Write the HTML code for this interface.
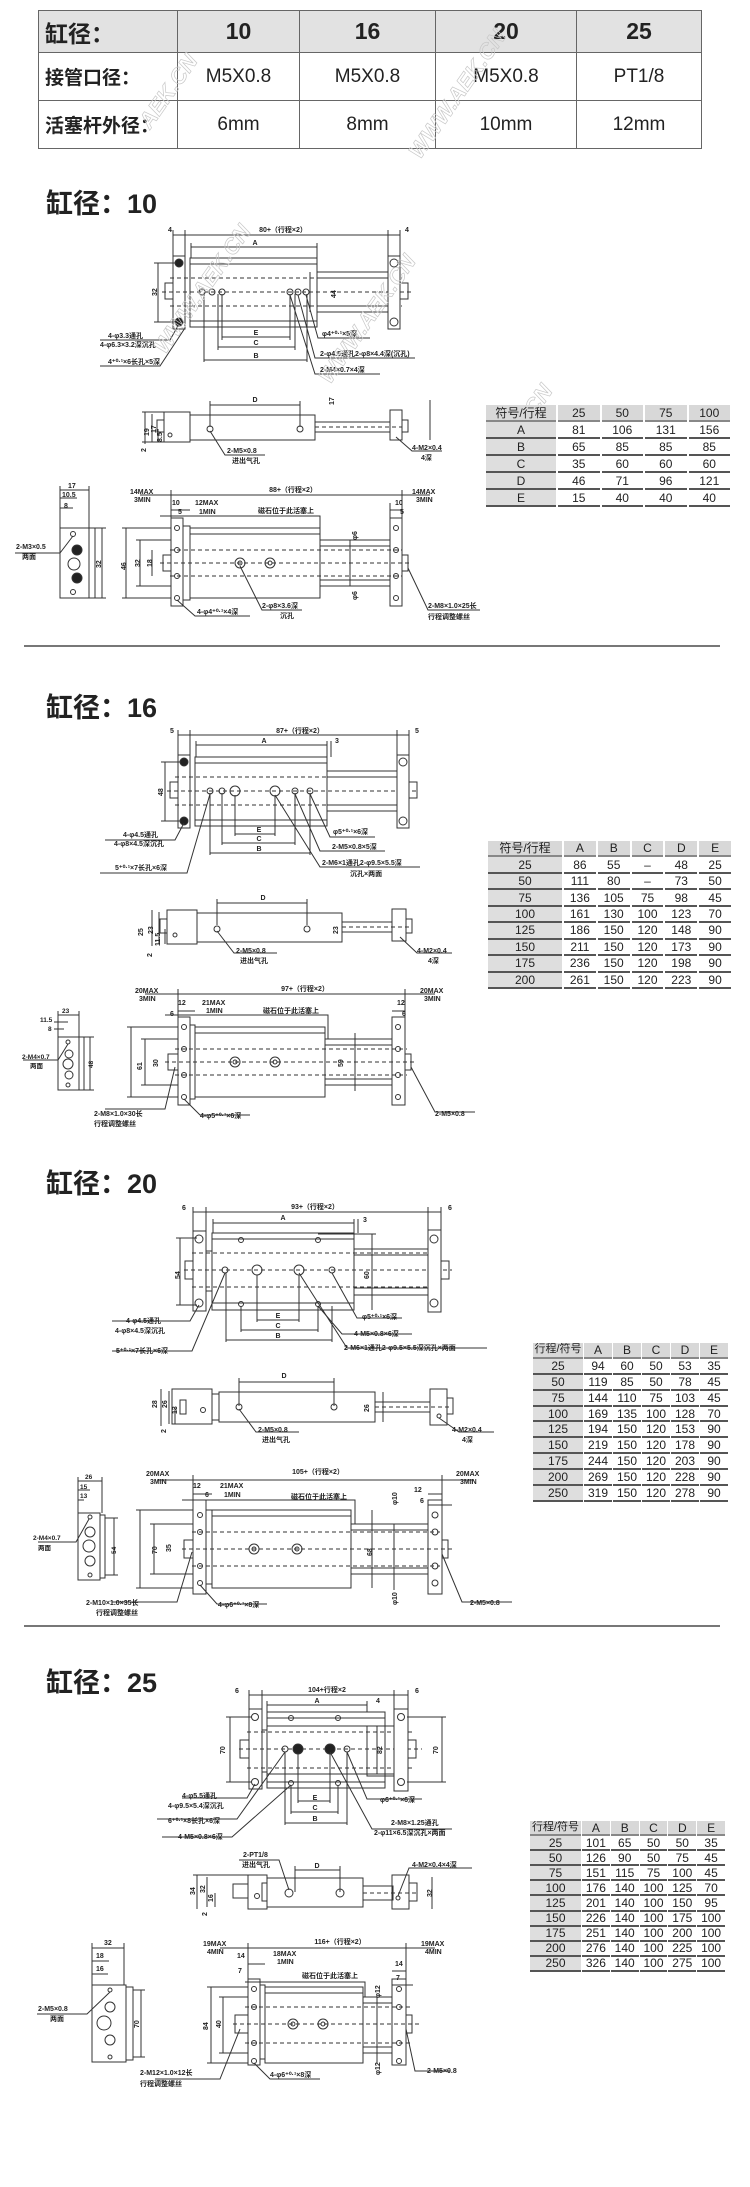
<!DOCTYPE html>
<html><head><meta charset="utf-8">
<style>
body{margin:0;background:#fff;}
#p{position:relative;width:750px;height:2187px;overflow:hidden;background:#fff;font-family:"Liberation Sans","Noto Sans CJK SC",sans-serif;}
table.top{position:absolute;left:38px;top:10px;width:664px;height:138px;border-collapse:collapse;border:1.5px solid #666;}
table.top td{border:1px solid #666;text-align:center;font-family:"Liberation Sans","Noto Sans CJK SC",sans-serif;color:#222;padding:0;white-space:nowrap;}
table.top tr.h td{background:#e2e2e2;font-weight:bold;font-size:23px;}
table.top td.f{text-align:left;padding-left:6px;font-weight:bold;font-size:21px;}
table.top tr.r td{font-size:19px;}
table.d{position:absolute;border-collapse:separate;border-spacing:2px 0;font-family:"Liberation Sans","Noto Sans CJK SC",sans-serif;color:#222;table-layout:fixed;}
table.d td{text-align:center;padding:0;border-bottom:2px solid #555;font-size:12px;line-height:1;white-space:nowrap;overflow:hidden;}
table.d tr:first-child td{background:#d8d8d8;border-bottom:2px solid #888;}
table.d td:first-child{background:#dedede;}
svg{position:absolute;left:0;top:0;}
svg text{font-family:"Liberation Sans","Noto Sans CJK SC",sans-serif;font-weight:bold;fill:#222;}
</style></head><body><div id="p">

<table class="top">
<tr class="h" style="height:42px"><td class="f" style="width:132px;font-size:23px">缸径：</td><td style="width:121px">10</td><td style="width:135px">16</td><td style="width:140px">20</td><td>25</td></tr>
<tr class="r" style="height:48px"><td class="f">接管口径：</td><td>M5X0.8</td><td>M5X0.8</td><td>M5X0.8</td><td>PT1/8</td></tr>
<tr class="r" style="height:48px"><td class="f">活塞杆外径：</td><td>6mm</td><td>8mm</td><td>10mm</td><td>12mm</td></tr>
</table>

<svg width="750" height="2187" viewBox="0 0 750 2187" xmlns="http://www.w3.org/2000/svg">
<g font-size="26" >
<text x="46" y="213" font-size="27">缸径：10</text>
<text x="46" y="717" font-size="27">缸径：16</text>
<text x="46" y="1193" font-size="27">缸径：20</text>
<text x="46" y="1692" font-size="27">缸径：25</text>
</g>
<line x1="24" y1="646" x2="720" y2="646" stroke="#777" stroke-width="2"/>
<line x1="24" y1="1626" x2="720" y2="1626" stroke="#777" stroke-width="2"/>

<!-- ========== SECTION 10 ========== -->
<g stroke="#333" fill="none" stroke-width="1" transform="translate(190,258)">
<rect x="-17" y="-2" width="12" height="73" fill="#fff"/>
<rect x="-25" y="25" width="8" height="16"/>
<rect x="0" y="0" width="127" height="69" fill="#fff"/>
<line x1="0" y1="6" x2="127" y2="6"/><line x1="0" y1="63" x2="127" y2="63"/>
<rect x="127" y="14" width="71" height="40"/>
<line x1="127" y1="20" x2="198" y2="20"/><line x1="127" y1="48" x2="198" y2="48"/>
<g stroke-dasharray="4,3"><line x1="-20" y1="20" x2="212" y2="20"/><line x1="-28" y1="34" x2="222" y2="34"/><line x1="-20" y1="48" x2="212" y2="48"/></g>
<rect x="198" y="-2" width="12" height="73" fill="#fff"/>
<rect x="210" y="25" width="8" height="16"/>
<circle cx="-11" cy="5" r="4" fill="#222"/><circle cx="-11" cy="64" r="4" fill="#222"/>
<circle cx="204" cy="5" r="4"/><circle cx="204" cy="64" r="4"/>
<circle cx="12" cy="34" r="3"/><circle cx="22" cy="34" r="3"/><circle cx="32" cy="34" r="3"/><circle cx="100" cy="34" r="3"/><circle cx="108" cy="34" r="3"/><circle cx="116" cy="34" r="3"/>
<line x1="-17" y1="-23" x2="210" y2="-23"/><line x1="-17" y1="-28" x2="-17" y2="0"/><line x1="-5" y1="-28" x2="-5" y2="0"/><line x1="198" y1="-28" x2="198" y2="0"/><line x1="210" y1="-28" x2="210" y2="0"/>
<line x1="1" y1="-11" x2="127" y2="-11"/><line x1="1" y1="-15" x2="1" y2="0"/><line x1="127" y1="-15" x2="127" y2="0"/>
<line x1="-32" y1="5" x2="-32" y2="64"/><line x1="-36" y1="5" x2="-15" y2="5"/><line x1="-36" y1="64" x2="-15" y2="64"/>
<line x1="120" y1="14" x2="120" y2="54"/>
<line x1="32" y1="79" x2="100" y2="79"/><line x1="28" y1="89" x2="105" y2="89"/><line x1="14" y1="102" x2="117" y2="102"/>
<line x1="14" y1="36" x2="14" y2="104"/><line x1="28" y1="36" x2="28" y2="92"/><line x1="32" y1="36" x2="32" y2="82"/><line x1="100" y1="36" x2="100" y2="82"/><line x1="105" y1="36" x2="105" y2="92"/><line x1="117" y1="36" x2="117" y2="104"/>
<polyline points="-11,66 -20,82 -90,82"/><polyline points="-5,70 -30,108 -90,108"/>
<polyline points="116,37 128,80 180,80"/><polyline points="108,37 125,100 225,100"/><polyline points="100,37 125,116 190,116"/>
</g>
<g font-size="7">
<text x="283" y="232" text-anchor="middle">80+（行程×2）</text>
<text x="168" y="232">4</text><text x="405" y="232">4</text>
<text x="255" y="245" text-anchor="middle">A</text>
<text x="157" y="296" transform="rotate(-90 157 296)">32</text>
<text x="336" y="298" transform="rotate(-90 336 298)">44</text>
<text x="256" y="335" text-anchor="middle">E</text><text x="256" y="345" text-anchor="middle">C</text><text x="256" y="358" text-anchor="middle">B</text>
<text x="108" y="338">4-φ3.3通孔</text><text x="100" y="347">4-φ6.3×3.2深沉孔</text>
<text x="108" y="364">4⁺⁰·¹×6长孔×5深</text>
<text x="322" y="336">φ4⁺⁰·¹×5深</text>
<text x="320" y="356">2-φ4.5通孔2-φ8×4.4深(沉孔)</text>
<text x="320" y="372">2-M4×0.7×4深</text>
</g>
<g stroke="#333" fill="none" transform="translate(190,415)">
<line x1="20" y1="-10" x2="110" y2="-10"/><line x1="20" y1="-14" x2="20" y2="12"/><line x1="110" y1="-14" x2="110" y2="12"/>
<rect x="0" y="0" width="125" height="25"/><rect x="-26" y="-3" width="26" height="30"/><rect x="-33" y="5" width="7" height="12"/>
<rect x="125" y="7" width="75" height="10"/><line x1="125" y1="12" x2="212" y2="12" stroke-dasharray="4,3"/>
<rect x="200" y="-5" width="12" height="30"/><rect x="212" y="5" width="6" height="12"/>
<circle cx="20" cy="14" r="3"/><circle cx="110" cy="14" r="3"/><circle cx="-20" cy="20" r="2"/>
<line x1="-45" y1="-3" x2="-45" y2="29"/><line x1="-38" y1="-1" x2="-38" y2="27"/><line x1="-32" y1="14" x2="-32" y2="27"/>
<line x1="-48" y1="-3" x2="-26" y2="-3"/><line x1="-48" y1="27" x2="-26" y2="27"/>
<polyline points="20,16 35,40 75,40"/><polyline points="206,22 222,36 252,36"/>
<line x1="240" y1="-15" x2="240" y2="25"/>
</g>
<g font-size="7">
<text x="255" y="402" text-anchor="middle">D</text>
<text x="149" y="436" transform="rotate(-90 149 436)">19</text>
<text x="156" y="433" transform="rotate(-90 156 433)">17</text>
<text x="162" y="442" transform="rotate(-90 162 442)">8.5</text>
<text x="146" y="452" transform="rotate(-90 146 452)">2</text>
<text x="227" y="453">2-M5×0.8</text><text x="232" y="463">进出气孔</text>
<text x="412" y="450">4-M2×0.4</text><text x="421" y="460">4深</text>
<text x="334" y="405" transform="rotate(-90 334 405)">17</text>
</g>
<g stroke="#333" fill="none" transform="translate(60,528)">
<rect x="0" y="0" width="29" height="70"/><rect x="29" y="0" width="6" height="70"/>
<circle cx="13" cy="6" r="2.5"/><circle cx="17" cy="22" r="5" fill="#222"/><circle cx="14" cy="36" r="6"/><circle cx="17" cy="50" r="5" fill="#222"/><circle cx="13" cy="64" r="2.5"/>
<line x1="0" y1="-38" x2="29" y2="-38"/><line x1="0" y1="-30" x2="17" y2="-30"/><line x1="0" y1="-20" x2="13" y2="-20"/>
<line x1="0" y1="-42" x2="0" y2="0"/><line x1="29" y1="-42" x2="29" y2="0"/>
<line x1="42" y1="0" x2="42" y2="70"/><line x1="35" y1="0" x2="46" y2="0"/><line x1="35" y1="70" x2="46" y2="70"/>
<polyline points="13,8 0,25 -45,25"/>
</g>
<g font-size="7">
<text x="68" y="488">17</text><text x="62" y="497">10.5</text><text x="64" y="508">8</text>
<text x="16" y="549">2-M3×0.5</text><text x="22" y="559">两面</text>
<text x="101" y="568" transform="rotate(-90 101 568)">32</text>
</g>
<g stroke="#333" fill="none" transform="translate(190,528)">
<rect x="-19" y="-10" width="12" height="88"/><rect x="-7" y="-2" width="7" height="74"/>
<rect x="0" y="0" width="130" height="70"/><line x1="0" y1="6" x2="130" y2="6"/>
<rect x="130" y="12" width="70" height="46"/><line x1="130" y1="18" x2="200" y2="18"/><line x1="130" y1="52" x2="200" y2="52"/>
<rect x="200" y="-10" width="12" height="88"/><rect x="212" y="27" width="6" height="16"/><rect x="-27" y="27" width="8" height="16"/>
<g stroke-dasharray="4,3"><line x1="-20" y1="22" x2="212" y2="22"/><line x1="-30" y1="35" x2="222" y2="35"/><line x1="-20" y1="48" x2="212" y2="48"/></g>
<circle cx="50" cy="35" r="5"/><circle cx="50" cy="35" r="2"/><circle cx="80" cy="35" r="5"/><circle cx="80" cy="35" r="2"/>
<circle cx="-13" cy="0" r="2.5"/><circle cx="-13" cy="22" r="2.5"/><circle cx="-13" cy="48" r="2.5"/><circle cx="-13" cy="70" r="2.5"/>
<circle cx="206" cy="0" r="2.5"/><circle cx="206" cy="22" r="2.5"/><circle cx="206" cy="48" r="2.5"/><circle cx="206" cy="70" r="2.5"/>
<line x1="-19" y1="-33" x2="212" y2="-33"/><line x1="-19" y1="-38" x2="-19" y2="-10"/><line x1="212" y1="-38" x2="212" y2="-10"/>
<line x1="-50" y1="-33" x2="-19" y2="-33"/><line x1="212" y1="-33" x2="240" y2="-33"/>
<line x1="-19" y1="-18" x2="0" y2="-18"/><line x1="200" y1="-18" x2="212" y2="-18"/><line x1="200" y1="-25" x2="200" y2="-10"/>
<polyline points="-30,-12 130,-12 130,12"/>
<line x1="-64" y1="0" x2="-64" y2="70"/><line x1="-68" y1="0" x2="-19" y2="0"/><line x1="-68" y1="70" x2="-19" y2="70"/>
<line x1="-50" y1="12" x2="-50" y2="58"/><line x1="-54" y1="12" x2="-19" y2="12"/><line x1="-54" y1="58" x2="-19" y2="58"/>
<line x1="-38" y1="22" x2="-38" y2="48"/>
<line x1="160" y1="12" x2="160" y2="58"/>
<polyline points="-13,72 5,88 60,88"/><polyline points="50,38 72,82 112,82"/><polyline points="218,40 238,82 290,82"/>
</g>
<g font-size="7">
<text x="130" y="494">14MAX</text><text x="134" y="502">3MIN</text>
<text x="412" y="494">14MAX</text><text x="416" y="502">3MIN</text>
<text x="293" y="492" text-anchor="middle">88+（行程×2）</text>
<text x="172" y="505">10</text><text x="178" y="514">5</text><text x="195" y="505">12MAX</text><text x="199" y="514">1MIN</text>
<text x="395" y="505">10</text><text x="400" y="514">5</text>
<text x="258" y="513">磁石位于此活塞上</text>
<text x="126" y="570" transform="rotate(-90 126 570)">46</text>
<text x="140" y="567" transform="rotate(-90 140 567)">32</text>
<text x="152" y="567" transform="rotate(-90 152 567)">18</text>
<text x="197" y="614">4-φ4⁺⁰·¹×4深</text>
<text x="262" y="608">2-φ8×3.6深</text><text x="280" y="618">沉孔</text>
<text x="428" y="608">2-M8×1.0×25长</text><text x="428" y="619">行程调整螺丝</text>
<text x="357" y="540" transform="rotate(-90 357 540)">φ6</text>
<text x="357" y="600" transform="rotate(-90 357 600)">φ6</text>
</g>

<!-- ========== SECTION 16 ========== -->
<g stroke="#333" fill="none" transform="translate(195,757)">
<rect x="-17" y="-2" width="12" height="73" fill="#fff"/>
<rect x="-25" y="25" width="8" height="16"/>
<rect x="0" y="0" width="132" height="69" fill="#fff"/>
<line x1="0" y1="6" x2="132" y2="6"/><line x1="0" y1="63" x2="132" y2="63"/>
<rect x="132" y="14" width="70" height="40"/>
<line x1="132" y1="20" x2="202" y2="20"/><line x1="132" y1="48" x2="202" y2="48"/>
<g stroke-dasharray="4,3"><line x1="-20" y1="20" x2="214" y2="20"/><line x1="-28" y1="34" x2="224" y2="34"/><line x1="-20" y1="48" x2="214" y2="48"/></g>
<rect x="202" y="-2" width="12" height="73" fill="#fff"/>
<rect x="214" y="25" width="8" height="16"/>
<circle cx="-11" cy="5" r="4" fill="#222"/><circle cx="-11" cy="64" r="4" fill="#222"/>
<circle cx="208" cy="5" r="4"/><circle cx="208" cy="64" r="4"/>
<circle cx="15" cy="34" r="3"/><circle cx="27" cy="34" r="3"/><circle cx="40" cy="34" r="5"/><circle cx="80" cy="34" r="5"/><circle cx="100" cy="34" r="3"/><circle cx="115" cy="34" r="3"/>
<line x1="-17" y1="-22" x2="214" y2="-22"/><line x1="-17" y1="-27" x2="-17" y2="0"/><line x1="-5" y1="-27" x2="-5" y2="0"/><line x1="202" y1="-27" x2="202" y2="0"/><line x1="214" y1="-27" x2="214" y2="0"/>
<line x1="1" y1="-12" x2="132" y2="-12"/><line x1="1" y1="-16" x2="1" y2="0"/><line x1="132" y1="-16" x2="132" y2="0"/><line x1="136" y1="-16" x2="136" y2="0"/>
<line x1="-30" y1="5" x2="-30" y2="64"/><line x1="-34" y1="5" x2="-15" y2="5"/><line x1="-34" y1="64" x2="-15" y2="64"/>
<line x1="40" y1="77" x2="80" y2="77"/><line x1="27" y1="86" x2="100" y2="86"/><line x1="15" y1="96" x2="115" y2="96"/>
<line x1="15" y1="36" x2="15" y2="98"/><line x1="27" y1="36" x2="27" y2="88"/><line x1="40" y1="38" x2="40" y2="79"/><line x1="80" y1="38" x2="80" y2="79"/><line x1="100" y1="36" x2="100" y2="88"/><line x1="115" y1="36" x2="115" y2="98"/>
<polyline points="-11,66 -20,83 -90,83"/><polyline points="15,37 -8,116 -95,116"/>
<polyline points="115,37 135,80 180,80"/><polyline points="100,37 125,94 190,94"/><polyline points="80,38 125,110 225,110"/>
</g>
<g font-size="7">
<text x="300" y="733" text-anchor="middle">87+（行程×2）</text>
<text x="170" y="733">5</text><text x="415" y="733">5</text>
<text x="264" y="743" text-anchor="middle">A</text><text x="335" y="743">3</text>
<text x="163" y="796" transform="rotate(-90 163 796)">48</text>
<text x="259" y="832" text-anchor="middle">E</text><text x="259" y="841" text-anchor="middle">C</text><text x="259" y="851" text-anchor="middle">B</text>
<text x="123" y="837">4-φ4.5通孔</text><text x="114" y="846">4-φ8×4.5深沉孔</text>
<text x="115" y="870">5⁺⁰·¹×7长孔×6深</text>
<text x="333" y="834">φ5⁺⁰·¹×6深</text>
<text x="332" y="849">2-M5×0.8×5深</text>
<text x="322" y="865">2-M6×1通孔2-φ9.5×5.5深</text>
<text x="350" y="876">沉孔×两面</text>
</g>
<g stroke="#333" fill="none" transform="translate(197,913)">
<line x1="20" y1="-10" x2="110" y2="-10"/><line x1="20" y1="-14" x2="20" y2="12"/><line x1="110" y1="-14" x2="110" y2="12"/>
<rect x="0" y="0" width="145" height="29"/><rect x="-30" y="-3" width="30" height="34"/><rect x="-37" y="6" width="7" height="14"/>
<rect x="145" y="9" width="50" height="10"/><line x1="145" y1="14" x2="214" y2="14" stroke-dasharray="4,3"/>
<rect x="195" y="-4" width="14" height="32"/><rect x="209" y="6" width="6" height="14"/>
<circle cx="20" cy="16" r="3"/><circle cx="110" cy="16" r="3"/><circle cx="-22" cy="22" r="2"/>
<line x1="-45" y1="-3" x2="-45" y2="33"/><line x1="-38" y1="-1" x2="-38" y2="31"/><line x1="-32" y1="16" x2="-32" y2="31"/>
<polyline points="20,18 37,40 80,40"/><polyline points="203,24 220,40 255,40"/>
</g>
<g font-size="7">
<text x="263" y="900" text-anchor="middle">D</text>
<text x="143" y="936" transform="rotate(-90 143 936)">25</text>
<text x="153" y="934" transform="rotate(-90 153 934)">23</text>
<text x="160" y="946" transform="rotate(-90 160 946)">11.5</text>
<text x="152" y="957" transform="rotate(-90 152 957)">2</text>
<text x="338" y="934" transform="rotate(-90 338 934)">23</text>
<text x="236" y="953">2-M5×0.8</text><text x="240" y="963">进出气孔</text>
<text x="417" y="953">4-M2×0.4</text><text x="428" y="963">4深</text>
</g>
<g stroke="#333" fill="none" transform="translate(58,1037)">
<rect x="0" y="0" width="21" height="53"/><rect x="21" y="0" width="5" height="53"/>
<circle cx="10" cy="5" r="2"/><circle cx="11" cy="17" r="4"/><circle cx="10" cy="27" r="5"/><circle cx="11" cy="38" r="4"/><circle cx="10" cy="48" r="2"/>
<line x1="0" y1="-22" x2="21" y2="-22"/><line x1="-4" y1="-15" x2="10" y2="-15"/><line x1="-4" y1="-8" x2="6" y2="-8"/>
<line x1="0" y1="-26" x2="0" y2="0"/><line x1="21" y1="-26" x2="21" y2="0"/>
<line x1="32" y1="0" x2="32" y2="53"/><line x1="26" y1="0" x2="36" y2="0"/><line x1="26" y1="53" x2="36" y2="53"/>
<polyline points="10,7 0,23 -35,23"/>
</g>
<g font-size="6.5">
<text x="62" y="1013">23</text><text x="40" y="1022">11.5</text><text x="48" y="1031">8</text>
<text x="22" y="1059">2-M4×0.7</text><text x="30" y="1068">两面</text>
<text x="93" y="1068" transform="rotate(-90 93 1068)">48</text>
</g>
<g stroke="#333" fill="none" transform="translate(195,1027)">
<rect x="-17" y="-10" width="12" height="88"/><rect x="-5" y="-2" width="5" height="74"/>
<rect x="0" y="0" width="130" height="70"/><line x1="0" y1="6" x2="130" y2="6"/>
<rect x="130" y="12" width="67" height="46"/><line x1="130" y1="18" x2="197" y2="18"/><line x1="130" y1="52" x2="197" y2="52"/>
<rect x="197" y="-10" width="13" height="88"/><rect x="210" y="27" width="6" height="16"/><rect x="-27" y="27" width="10" height="16"/>
<g stroke-dasharray="4,3"><line x1="-20" y1="22" x2="212" y2="22"/><line x1="-30" y1="35" x2="222" y2="35"/><line x1="-20" y1="48" x2="212" y2="48"/></g>
<circle cx="40" cy="35" r="5"/><circle cx="40" cy="35" r="2"/><circle cx="80" cy="35" r="5"/><circle cx="80" cy="35" r="2"/>
<circle cx="-11" cy="0" r="2.5"/><circle cx="-11" cy="22" r="2.5"/><circle cx="-11" cy="48" r="2.5"/><circle cx="-11" cy="70" r="2.5"/>
<circle cx="203" cy="0" r="2.5"/><circle cx="203" cy="22" r="2.5"/><circle cx="203" cy="48" r="2.5"/><circle cx="203" cy="70" r="2.5"/>
<line x1="-17" y1="-33" x2="210" y2="-33"/><line x1="-17" y1="-38" x2="-17" y2="-10"/><line x1="210" y1="-38" x2="210" y2="-10"/>
<line x1="-50" y1="-33" x2="-17" y2="-33"/><line x1="210" y1="-33" x2="240" y2="-33"/>
<line x1="-17" y1="-16" x2="0" y2="-16"/><line x1="197" y1="-16" x2="210" y2="-16"/>
<polyline points="-30,-12 133,-12 133,12"/>
<line x1="-64" y1="0" x2="-64" y2="70"/><line x1="-68" y1="0" x2="-17" y2="0"/><line x1="-68" y1="70" x2="-17" y2="70"/>
<line x1="-50" y1="12" x2="-50" y2="58"/><line x1="-54" y1="12" x2="-17" y2="12"/><line x1="-54" y1="58" x2="-17" y2="58"/>
<line x1="160" y1="6" x2="160" y2="64"/>
<polyline points="-11,72 5,88 55,88"/><polyline points="-20,40 -30,82 -90,82"/><polyline points="216,40 240,85 280,85"/>
</g>
<g font-size="7">
<text x="135" y="993">20MAX</text><text x="139" y="1001">3MIN</text>
<text x="420" y="993">20MAX</text><text x="424" y="1001">3MIN</text>
<text x="305" y="991" text-anchor="middle">97+（行程×2）</text>
<text x="178" y="1005">12</text><text x="170" y="1016">6</text><text x="202" y="1005">21MAX</text><text x="206" y="1013">1MIN</text>
<text x="397" y="1005">12</text><text x="402" y="1016">6</text>
<text x="263" y="1013">磁石位于此活塞上</text>
<text x="142" y="1070" transform="rotate(-90 142 1070)">61</text>
<text x="158" y="1067" transform="rotate(-90 158 1067)">30</text>
<text x="343" y="1067" transform="rotate(-90 343 1067)">59</text>
<text x="94" y="1116">2-M8×1.0×30长</text><text x="94" y="1126">行程调整螺丝</text>
<text x="200" y="1118">4-φ5⁺⁰·¹×6深</text>
<text x="435" y="1116">2-M5×0.8</text>
</g>

<!-- ========== SECTION 20 ========== -->
<g stroke="#333" fill="none" transform="translate(212,1233)">
<rect x="-19" y="-2" width="13" height="80" fill="#fff"/>
<rect x="-6" y="18" width="6" height="40"/>
<rect x="-27" y="28" width="8" height="18"/>
<rect x="0" y="0" width="142" height="77" fill="#fff"/>
<line x1="0" y1="6" x2="142" y2="6"/><line x1="0" y1="70" x2="142" y2="70"/>
<rect x="142" y="16" width="74" height="46"/>
<line x1="142" y1="22" x2="216" y2="22"/><line x1="142" y1="55" x2="216" y2="55"/>
<g stroke-dasharray="4,3"><line x1="-20" y1="20" x2="228" y2="20"/><line x1="-28" y1="37" x2="240" y2="37"/><line x1="-20" y1="54" x2="228" y2="54"/></g>
<rect x="216" y="-3" width="13" height="82" fill="#fff"/>
<rect x="229" y="28" width="8" height="18"/>
<circle cx="-13" cy="6" r="4"/><circle cx="-13" cy="70" r="4"/>
<circle cx="222" cy="6" r="4"/><circle cx="222" cy="70" r="4"/>
<circle cx="29" cy="7" r="2.5"/><circle cx="106" cy="7" r="2.5"/><circle cx="29" cy="71" r="2.5"/><circle cx="106" cy="71" r="2.5"/>
<circle cx="13" cy="37" r="3"/><circle cx="45" cy="37" r="5"/><circle cx="87" cy="37" r="5"/><circle cx="120" cy="37" r="3"/>
<line x1="-19" y1="-21" x2="229" y2="-21"/><line x1="-19" y1="-26" x2="-19" y2="0"/><line x1="-6" y1="-26" x2="-6" y2="0"/><line x1="216" y1="-26" x2="216" y2="0"/><line x1="229" y1="-26" x2="229" y2="0"/>
<line x1="1" y1="-10" x2="142" y2="-10"/><line x1="1" y1="-14" x2="1" y2="0"/><line x1="142" y1="-14" x2="142" y2="0"/><line x1="146" y1="-14" x2="146" y2="0"/>
<line x1="-32" y1="5" x2="-32" y2="72"/><line x1="-36" y1="5" x2="-15" y2="5"/><line x1="-36" y1="72" x2="-15" y2="72"/>
<line x1="160" y1="1" x2="160" y2="77"/><line x1="106" y1="1" x2="164" y2="1"/>
<line x1="45" y1="87" x2="87" y2="87"/><line x1="29" y1="97" x2="106" y2="97"/><line x1="14" y1="107" x2="120" y2="107"/>
<line x1="14" y1="40" x2="14" y2="109"/><line x1="29" y1="73" x2="29" y2="99"/><line x1="45" y1="42" x2="45" y2="89"/><line x1="87" y1="42" x2="87" y2="89"/><line x1="106" y1="73" x2="106" y2="99"/><line x1="120" y1="73" x2="120" y2="109"/>
<polyline points="-13,72 -22,88 -100,88"/><polyline points="13,40 -20,118 -100,118"/>
<polyline points="120,40 145,85 190,85"/><polyline points="106,73 130,101 200,101"/><polyline points="87,40 135,115 275,115"/>
</g>
<g font-size="7">
<text x="315" y="1209" text-anchor="middle">93+（行程×2）</text>
<text x="182" y="1210">6</text><text x="448" y="1210">6</text>
<text x="283" y="1220" text-anchor="middle">A</text><text x="363" y="1222">3</text>
<text x="180" y="1279" transform="rotate(-90 180 1279)">54</text>
<text x="369" y="1279" transform="rotate(-90 369 1279)">60</text>
<text x="278" y="1318" text-anchor="middle">E</text><text x="278" y="1328" text-anchor="middle">C</text><text x="278" y="1338" text-anchor="middle">B</text>
<text x="126" y="1323">4-φ4.5通孔</text><text x="115" y="1333">4-φ8×4.5深沉孔</text>
<text x="116" y="1353">5⁺⁰·¹×7长孔×6深</text>
<text x="362" y="1319">φ5⁺⁰·¹×6深</text>
<text x="354" y="1336">4-M5×0.8×6深</text>
<text x="344" y="1350">2-M6×1通孔2-φ9.5×5.5深沉孔×两面</text>
</g>
<g stroke="#333" fill="none" transform="translate(219,1392)">
<line x1="20" y1="-10" x2="115" y2="-10"/><line x1="20" y1="-14" x2="20" y2="14"/><line x1="115" y1="-14" x2="115" y2="14"/>
<rect x="0" y="0" width="156" height="30"/><rect x="-7" y="2" width="7" height="26"/><rect x="-47" y="-3" width="40" height="35"/><rect x="-39" y="8" width="6" height="14"/>
<rect x="156" y="10" width="55" height="10"/><line x1="156" y1="15" x2="230" y2="15" stroke-dasharray="4,3"/>
<rect x="211" y="-3" width="17" height="36"/><rect x="228" y="6" width="6" height="16"/>
<circle cx="20" cy="15" r="3"/><circle cx="115" cy="15" r="3"/><circle cx="-16" cy="18" r="2.5"/><circle cx="220" cy="24" r="2"/>
<line x1="-58" y1="-3" x2="-58" y2="34"/><line x1="-50" y1="-1" x2="-50" y2="32"/><line x1="-44" y1="16" x2="-44" y2="32"/>
<line x1="164" y1="0" x2="164" y2="30"/>
<polyline points="20,17 37,40 80,40"/><polyline points="220,26 240,40 275,40"/>
</g>
<g font-size="7">
<text x="284" y="1378" text-anchor="middle">D</text>
<text x="157" y="1408" transform="rotate(-90 157 1408)">28</text>
<text x="167" y="1408" transform="rotate(-90 167 1408)">26</text>
<text x="177" y="1414" transform="rotate(-90 177 1414)">13</text>
<text x="166" y="1433" transform="rotate(-90 166 1433)">2</text>
<text x="369" y="1412" transform="rotate(-90 369 1412)">26</text>
<text x="258" y="1432">2-M5×0.8</text><text x="262" y="1442">进出气孔</text>
<text x="452" y="1432">4-M2×0.4</text><text x="462" y="1442">4深</text>
</g>
<g stroke="#333" fill="none" transform="translate(78,1513)">
<rect x="0" y="0" width="22" height="67"/><rect x="22" y="2" width="5" height="63"/>
<circle cx="12" cy="4" r="2"/><circle cx="12" cy="19" r="5"/><circle cx="11" cy="33" r="6"/><circle cx="12" cy="48" r="5"/><circle cx="12" cy="62" r="2"/>
<line x1="0" y1="-32" x2="24" y2="-32"/><line x1="0" y1="-23" x2="12" y2="-23"/><line x1="0" y1="-13" x2="6" y2="-13"/>
<line x1="0" y1="-36" x2="0" y2="0"/><line x1="24" y1="-36" x2="24" y2="0"/>
<line x1="36" y1="5" x2="36" y2="62"/><line x1="27" y1="5" x2="40" y2="5"/><line x1="27" y1="62" x2="40" y2="62"/>
<polyline points="11,6 -2,29 -40,29"/>
</g>
<g font-size="6.5">
<text x="85" y="1479">26</text><text x="80" y="1489">15</text><text x="80" y="1498">13</text>
<text x="33" y="1540">2-M4×0.7</text><text x="38" y="1550">两面</text>
<text x="116" y="1554" transform="rotate(-90 116 1554)">54</text>
</g>
<g stroke="#333" fill="none" transform="translate(212,1510)">
<rect x="-19" y="-10" width="13" height="94"/><rect x="-6" y="0" width="6" height="74"/>
<rect x="0" y="0" width="139" height="78"/><line x1="0" y1="6" x2="139" y2="6"/>
<rect x="139" y="14" width="77" height="50"/><line x1="139" y1="20" x2="216" y2="20"/><line x1="139" y1="58" x2="216" y2="58"/>
<rect x="216" y="-10" width="14" height="94"/><rect x="230" y="30" width="6" height="18"/><rect x="-28" y="30" width="9" height="18"/>
<g stroke-dasharray="4,3"><line x1="-20" y1="22" x2="228" y2="22"/><line x1="-30" y1="39" x2="240" y2="39"/><line x1="-20" y1="56" x2="228" y2="56"/></g>
<circle cx="42" cy="39" r="5"/><circle cx="42" cy="39" r="2"/><circle cx="85" cy="39" r="5"/><circle cx="85" cy="39" r="2"/>
<circle cx="-12" cy="5" r="2.5"/><circle cx="-12" cy="22" r="2.5"/><circle cx="-12" cy="56" r="2.5"/><circle cx="-12" cy="73" r="2.5"/>
<circle cx="223" cy="5" r="3"/><circle cx="223" cy="22" r="3"/><circle cx="223" cy="56" r="3"/><circle cx="223" cy="73" r="3"/>
<line x1="-19" y1="-30" x2="230" y2="-30"/><line x1="-19" y1="-35" x2="-19" y2="-10"/><line x1="230" y1="-35" x2="230" y2="-10"/>
<line x1="-55" y1="-30" x2="-19" y2="-30"/><line x1="230" y1="-30" x2="262" y2="-30"/>
<line x1="-19" y1="-16" x2="0" y2="-16"/><line x1="216" y1="-16" x2="230" y2="-16"/><line x1="216" y1="-5" x2="240" y2="-5"/>
<polyline points="-30,-10 143,-10 143,14"/>
<line x1="-72" y1="0" x2="-72" y2="78"/><line x1="-76" y1="0" x2="-19" y2="0"/><line x1="-76" y1="78" x2="-19" y2="78"/>
<line x1="-58" y1="14" x2="-58" y2="64"/><line x1="-62" y1="14" x2="-19" y2="14"/><line x1="-62" y1="64" x2="-19" y2="64"/>
<line x1="160" y1="0" x2="160" y2="78"/><line x1="182" y1="14" x2="182" y2="80"/>
<polyline points="-12,75 5,94 55,94"/><polyline points="-20,42 -35,92 -100,92"/><polyline points="230,44 250,92 300,92"/>
</g>
<g font-size="7">
<text x="146" y="1476">20MAX</text><text x="150" y="1484">3MIN</text>
<text x="456" y="1476">20MAX</text><text x="460" y="1484">3MIN</text>
<text x="318" y="1474" text-anchor="middle">105+（行程×2）</text>
<text x="193" y="1488">12</text><text x="205" y="1497">6</text><text x="220" y="1488">21MAX</text><text x="224" y="1497">1MIN</text>
<text x="414" y="1492">12</text><text x="420" y="1503">6</text>
<text x="291" y="1499">磁石位于此活塞上</text>
<text x="157" y="1554" transform="rotate(-90 157 1554)">70</text>
<text x="171" y="1552" transform="rotate(-90 171 1552)">35</text>
<text x="372" y="1556" transform="rotate(-90 372 1556)">68</text>
<text x="397" y="1505" transform="rotate(-90 397 1505)">φ10</text>
<text x="397" y="1605" transform="rotate(-90 397 1605)">φ10</text>
<text x="86" y="1605">2-M10×1.0×35长</text><text x="96" y="1615">行程调整螺丝</text>
<text x="218" y="1607">4-φ6⁺⁰·¹×8深</text>
<text x="470" y="1605">2-M5×0.8</text>
</g>

<!-- ========== SECTION 25 ========== -->
<g stroke="#333" fill="none" transform="translate(267,1712)">
<rect x="-18" y="-3" width="13" height="80" fill="#fff"/>
<rect x="-5" y="18" width="5" height="42"/>
<rect x="-27" y="28" width="9" height="18"/>
<rect x="0" y="0" width="118" height="76" fill="#fff"/>
<line x1="0" y1="6" x2="118" y2="6"/><line x1="0" y1="70" x2="118" y2="70"/>
<rect x="100" y="14" width="27" height="50"/>
<line x1="0" y1="14" x2="127" y2="14"/><line x1="0" y1="62" x2="127" y2="62"/>
<g stroke-dasharray="4,3"><line x1="-20" y1="20" x2="145" y2="20"/><line x1="-28" y1="37" x2="155" y2="37"/><line x1="-20" y1="56" x2="145" y2="56"/></g>
<rect x="127" y="-3" width="14" height="82" fill="#fff"/>
<rect x="141" y="28" width="8" height="18"/>
<circle cx="-12" cy="5" r="3.5"/><circle cx="-12" cy="70" r="3.5"/>
<circle cx="134" cy="5" r="3.5"/><circle cx="134" cy="70" r="3.5"/>
<circle cx="24" cy="6" r="2.5"/><circle cx="71" cy="6" r="2.5"/><circle cx="24" cy="71" r="2.5"/><circle cx="71" cy="71" r="2.5"/>
<circle cx="18" cy="37" r="3"/><circle cx="31" cy="37" r="5" fill="#222"/><circle cx="63" cy="37" r="5" fill="#222"/><circle cx="80" cy="37" r="3"/>
<line x1="-18" y1="-17" x2="141" y2="-17"/><line x1="-18" y1="-22" x2="-18" y2="0"/><line x1="-5" y1="-22" x2="-5" y2="0"/><line x1="127" y1="-22" x2="127" y2="0"/><line x1="141" y1="-22" x2="141" y2="0"/>
<line x1="0" y1="-7" x2="100" y2="-7"/><line x1="0" y1="-11" x2="0" y2="0"/><line x1="100" y1="-11" x2="100" y2="0"/>
<line x1="-37" y1="5" x2="-37" y2="70"/><line x1="-41" y1="5" x2="-15" y2="5"/><line x1="-41" y1="70" x2="-15" y2="70"/>
<line x1="175" y1="5" x2="175" y2="70"/><line x1="140" y1="5" x2="179" y2="5"/><line x1="140" y1="70" x2="179" y2="70"/>
<line x1="110" y1="14" x2="110" y2="62"/>
<line x1="31" y1="89" x2="63" y2="89"/><line x1="24" y1="100" x2="71" y2="100"/><line x1="18" y1="111" x2="80" y2="111"/>
<line x1="18" y1="40" x2="18" y2="113"/><line x1="24" y1="73" x2="24" y2="102"/><line x1="31" y1="42" x2="31" y2="91"/><line x1="63" y1="42" x2="63" y2="91"/><line x1="71" y1="73" x2="71" y2="102"/><line x1="80" y1="40" x2="80" y2="113"/>
<polyline points="-12,72 -20,86 -85,86"/><polyline points="18,40 -30,107 -110,107"/><polyline points="24,73 -35,125 -105,125"/>
<polyline points="80,40 100,87 155,87"/><polyline points="63,40 105,117 185,117"/>
</g>
<g font-size="7">
<text x="327" y="1692" text-anchor="middle">104+行程×2</text>
<text x="235" y="1693">6</text><text x="415" y="1693">6</text>
<text x="317" y="1703" text-anchor="middle">A</text><text x="376" y="1703">4</text>
<text x="225" y="1754" transform="rotate(-90 225 1754)">70</text>
<text x="438" y="1754" transform="rotate(-90 438 1754)">70</text>
<text x="382" y="1754" transform="rotate(-90 382 1754)">82</text>
<text x="315" y="1800" text-anchor="middle">E</text><text x="315" y="1810" text-anchor="middle">C</text><text x="315" y="1821" text-anchor="middle">B</text>
<text x="182" y="1798">4-φ5.5通孔</text><text x="168" y="1808">4-φ9.5×5.4深沉孔</text>
<text x="168" y="1823">6⁺⁰·¹×8长孔×6深</text>
<text x="178" y="1839">4-M5×0.8×6深</text>
<text x="380" y="1802">φ6⁺⁰·¹×6深</text>
<text x="391" y="1825">2-M8×1.25通孔</text>
<text x="374" y="1835">2-φ11×6.5深沉孔×两面</text>
</g>
<g stroke="#333" fill="none" transform="translate(267,1878)">
<line x1="28" y1="-8" x2="73" y2="-8"/><line x1="28" y1="-12" x2="28" y2="14"/><line x1="73" y1="-12" x2="73" y2="14"/>
<rect x="0" y="0" width="96" height="29"/><rect x="-5" y="5" width="5" height="18"/><rect x="-19" y="-3" width="19" height="34"/><rect x="-34" y="6" width="15" height="14"/>
<rect x="96" y="8" width="30" height="14"/><line x1="96" y1="15" x2="150" y2="15" stroke-dasharray="4,3"/>
<rect x="125" y="-3" width="17" height="34"/><rect x="142" y="5" width="8" height="18"/>
<circle cx="22" cy="15" r="4"/><circle cx="73" cy="15" r="4"/><circle cx="-10" cy="18" r="2.5"/><circle cx="131" cy="20" r="2"/>
<line x1="-70" y1="-3" x2="-70" y2="31"/><line x1="-60" y1="-1" x2="-60" y2="29"/><line x1="-52" y1="15" x2="-52" y2="29"/><line x1="-74" y1="-3" x2="-19" y2="-3"/>
<line x1="165" y1="-1" x2="165" y2="31"/>
<polyline points="22,12 12,-18 -28,-18"/><polyline points="131,18 142,-10 205,-10"/>
</g>
<g font-size="7">
<text x="317" y="1868" text-anchor="middle">D</text>
<text x="243" y="1857">2-PT1/8</text><text x="242" y="1867">进出气孔</text>
<text x="412" y="1867">4-M2×0.4×4深</text>
<text x="195" y="1895" transform="rotate(-90 195 1895)">34</text>
<text x="205" y="1893" transform="rotate(-90 205 1893)">32</text>
<text x="213" y="1902" transform="rotate(-90 213 1902)">16</text>
<text x="207" y="1916" transform="rotate(-90 207 1916)">2</text>
<text x="432" y="1897" transform="rotate(-90 432 1897)">32</text>
</g>
<g stroke="#333" fill="none" transform="translate(92,1985)">
<rect x="0" y="0" width="34" height="77"/><rect x="34" y="2" width="7" height="73"/>
<circle cx="18" cy="5" r="2"/><circle cx="18" cy="22" r="5"/><circle cx="12" cy="38" r="7"/><circle cx="18" cy="55" r="5"/><circle cx="18" cy="72" r="2"/>
<line x1="0" y1="-37" x2="32" y2="-37"/><line x1="0" y1="-24" x2="17" y2="-24"/><line x1="0" y1="-11" x2="16" y2="-11"/>
<line x1="0" y1="-42" x2="0" y2="0"/><line x1="32" y1="-42" x2="32" y2="0"/>
<line x1="49" y1="5" x2="49" y2="72"/><line x1="41" y1="5" x2="53" y2="5"/><line x1="41" y1="72" x2="53" y2="72"/>
<polyline points="18,7 -5,29 -55,29"/>
</g>
<g font-size="7">
<text x="104" y="1945">32</text><text x="96" y="1958">18</text><text x="96" y="1971">16</text>
<text x="38" y="2011">2-M5×0.8</text><text x="50" y="2021">两面</text>
<text x="139" y="2028" transform="rotate(-90 139 2028)">70</text>
</g>
<g stroke="#333" fill="none" transform="translate(265,1987)">
<rect x="-17" y="-8" width="12" height="86"/><rect x="-5" y="-2" width="5" height="74"/>
<rect x="0" y="0" width="98" height="76"/><line x1="0" y1="6" x2="98" y2="6"/>
<rect x="98" y="10" width="29" height="56"/><line x1="98" y1="16" x2="127" y2="16"/><line x1="98" y1="60" x2="127" y2="60"/>
<rect x="127" y="-8" width="14" height="86"/><rect x="141" y="28" width="6" height="18"/><rect x="-30" y="28" width="13" height="18"/>
<g stroke-dasharray="4,3"><line x1="-20" y1="20" x2="145" y2="20"/><line x1="-32" y1="37" x2="157" y2="37"/><line x1="-20" y1="56" x2="145" y2="56"/></g>
<circle cx="28" cy="37" r="5"/><circle cx="28" cy="37" r="2"/><circle cx="58" cy="37" r="5"/><circle cx="58" cy="37" r="2"/>
<circle cx="-11" cy="2" r="2.5"/><circle cx="-11" cy="20" r="2.5"/><circle cx="-11" cy="56" r="2.5"/><circle cx="-11" cy="74" r="2.5"/>
<circle cx="134" cy="2" r="2.5"/><circle cx="134" cy="20" r="2.5"/><circle cx="134" cy="56" r="2.5"/><circle cx="134" cy="74" r="2.5"/>
<line x1="-17" y1="-39" x2="141" y2="-39"/><line x1="-17" y1="-44" x2="-17" y2="-8"/><line x1="141" y1="-44" x2="141" y2="-8"/>
<line x1="-45" y1="-39" x2="-17" y2="-39"/><line x1="141" y1="-39" x2="170" y2="-39"/>
<line x1="-17" y1="-23" x2="0" y2="-23"/><line x1="127" y1="-16" x2="141" y2="-16"/><line x1="127" y1="-2" x2="148" y2="-2"/>
<polyline points="-20,-5 100,-5 100,10"/>
<line x1="-54" y1="0" x2="-54" y2="76"/><line x1="-58" y1="0" x2="-17" y2="0"/><line x1="-58" y1="76" x2="-17" y2="76"/>
<line x1="-42" y1="10" x2="-42" y2="66"/><line x1="-46" y1="10" x2="-17" y2="10"/><line x1="-46" y1="66" x2="-17" y2="66"/>
<line x1="112" y1="10" x2="112" y2="76"/>
<polyline points="-11,76 5,92 55,92"/><polyline points="-25,42 -45,92 -110,92"/><polyline points="141,42 150,84 185,84"/>
</g>
<g font-size="7">
<text x="203" y="1946">19MAX</text><text x="207" y="1954">4MIN</text>
<text x="421" y="1946">19MAX</text><text x="425" y="1954">4MIN</text>
<text x="340" y="1944" text-anchor="middle">116+（行程×2）</text>
<text x="237" y="1958">14</text><text x="238" y="1973">7</text><text x="273" y="1956">18MAX</text><text x="277" y="1964">1MIN</text>
<text x="395" y="1966">14</text><text x="396" y="1980">7</text>
<text x="302" y="1978">磁石位于此活塞上</text>
<text x="208" y="2030" transform="rotate(-90 208 2030)">84</text>
<text x="221" y="2028" transform="rotate(-90 221 2028)">40</text>
<text x="380" y="1998" transform="rotate(-90 380 1998)">φ12</text>
<text x="380" y="2075" transform="rotate(-90 380 2075)">φ12</text>
<text x="140" y="2075">2-M12×1.0×12长</text><text x="140" y="2086">行程调整螺丝</text>
<text x="270" y="2077">4-φ6⁺⁰·¹×8深</text>
<text x="427" y="2073">2-M5×0.8</text>
</g>

<!-- watermarks (faint outlines) -->
<g font-size="22" font-style="italic">
<text x="0" y="0" transform="translate(150,130) rotate(-55)" style="fill:none;stroke:#c8c8c8;stroke-width:0.7">AEK.CN</text>
<text x="0" y="0" transform="translate(420,160) rotate(-55)" style="fill:none;stroke:#c8c8c8;stroke-width:0.7">WWW.AEK.CN</text>
<text x="0" y="0" transform="translate(165,355) rotate(-55)" style="fill:none;stroke:#c8c8c8;stroke-width:0.7">WWW.AEK.CN</text>
<text x="0" y="0" transform="translate(330,385) rotate(-55)" style="fill:none;stroke:#c8c8c8;stroke-width:0.7">WWW.AEK.CN</text>
<text x="0" y="0" transform="translate(505,460) rotate(-55)" style="fill:none;stroke:#c8c8c8;stroke-width:0.7">AEK.CN</text>
</g>
</svg>

<table class="d" style="left:484px;top:405px;width:248px;height:102px">
<tr><td style="width:70px">符号/行程</td><td>25</td><td>50</td><td>75</td><td>100</td></tr>
<tr><td>A</td><td>81</td><td>106</td><td>131</td><td>156</td></tr>
<tr><td>B</td><td>65</td><td>85</td><td>85</td><td>85</td></tr>
<tr><td>C</td><td>35</td><td>60</td><td>60</td><td>60</td></tr>
<tr><td>D</td><td>46</td><td>71</td><td>96</td><td>121</td></tr>
<tr><td>E</td><td>15</td><td>40</td><td>40</td><td>40</td></tr>
</table>
<table class="d" style="left:486px;top:841px;width:247px;height:148px">
<tr><td style="width:74px">符号/行程</td><td>A</td><td>B</td><td>C</td><td>D</td><td>E</td></tr>
<tr><td>25</td><td>86</td><td>55</td><td>–</td><td>48</td><td>25</td></tr>
<tr><td>50</td><td>111</td><td>80</td><td>–</td><td>73</td><td>50</td></tr>
<tr><td>75</td><td>136</td><td>105</td><td>75</td><td>98</td><td>45</td></tr>
<tr><td>100</td><td>161</td><td>130</td><td>100</td><td>123</td><td>70</td></tr>
<tr><td>125</td><td>186</td><td>150</td><td>120</td><td>148</td><td>90</td></tr>
<tr><td>150</td><td>211</td><td>150</td><td>120</td><td>173</td><td>90</td></tr>
<tr><td>175</td><td>236</td><td>150</td><td>120</td><td>198</td><td>90</td></tr>
<tr><td>200</td><td>261</td><td>150</td><td>120</td><td>223</td><td>90</td></tr>
</table>
<table class="d" style="left:532px;top:1343px;width:197px;height:159px;border-spacing:1px 0">
<tr><td style="width:50px;font-size:11px">行程/符号</td><td>A</td><td>B</td><td>C</td><td>D</td><td>E</td></tr>
<tr><td>25</td><td>94</td><td>60</td><td>50</td><td>53</td><td>35</td></tr>
<tr><td>50</td><td>119</td><td>85</td><td>50</td><td>78</td><td>45</td></tr>
<tr><td>75</td><td>144</td><td>110</td><td>75</td><td>103</td><td>45</td></tr>
<tr><td>100</td><td>169</td><td>135</td><td>100</td><td>128</td><td>70</td></tr>
<tr><td>125</td><td>194</td><td>150</td><td>120</td><td>153</td><td>90</td></tr>
<tr><td>150</td><td>219</td><td>150</td><td>120</td><td>178</td><td>90</td></tr>
<tr><td>175</td><td>244</td><td>150</td><td>120</td><td>203</td><td>90</td></tr>
<tr><td>200</td><td>269</td><td>150</td><td>120</td><td>228</td><td>90</td></tr>
<tr><td>250</td><td>319</td><td>150</td><td>120</td><td>278</td><td>90</td></tr>
</table>
<table class="d" style="left:529px;top:1821px;width:197px;height:151px;border-spacing:1px 0">
<tr><td style="width:51px;font-size:11px">行程/符号</td><td>A</td><td>B</td><td>C</td><td>D</td><td>E</td></tr>
<tr><td>25</td><td>101</td><td>65</td><td>50</td><td>50</td><td>35</td></tr>
<tr><td>50</td><td>126</td><td>90</td><td>50</td><td>75</td><td>45</td></tr>
<tr><td>75</td><td>151</td><td>115</td><td>75</td><td>100</td><td>45</td></tr>
<tr><td>100</td><td>176</td><td>140</td><td>100</td><td>125</td><td>70</td></tr>
<tr><td>125</td><td>201</td><td>140</td><td>100</td><td>150</td><td>95</td></tr>
<tr><td>150</td><td>226</td><td>140</td><td>100</td><td>175</td><td>100</td></tr>
<tr><td>175</td><td>251</td><td>140</td><td>100</td><td>200</td><td>100</td></tr>
<tr><td>200</td><td>276</td><td>140</td><td>100</td><td>225</td><td>100</td></tr>
<tr><td>250</td><td>326</td><td>140</td><td>100</td><td>275</td><td>100</td></tr>
</table>
</div></body></html>
